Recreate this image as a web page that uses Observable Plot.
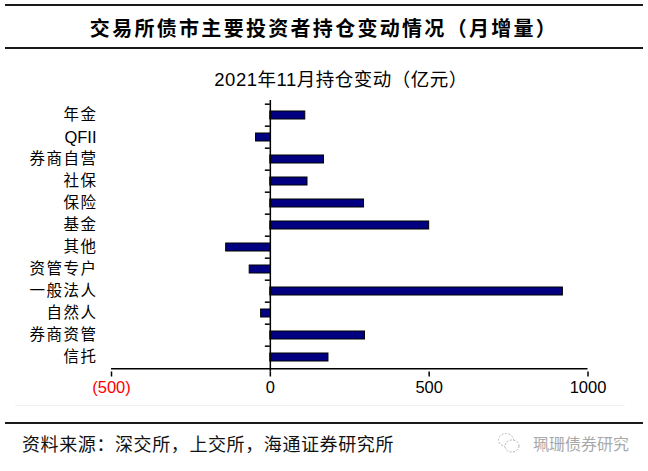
<!DOCTYPE html>
<html>
<head>
<meta charset="utf-8">
<script src="https://cdn.jsdelivr.net/npm/d3@7"></script>
<script src="https://cdn.jsdelivr.net/npm/@observablehq/plot@0.6"></script>
<style>
  html, body { margin: 0; padding: 0; background: #fff; }
  #wrap { position: relative; width: 648px; height: 471px; overflow: hidden; font-family: Arial, "Liberation Sans", "Noto Sans CJK SC", sans-serif; }
  .rule { position: absolute; left: 5px; width: 638px; height: 2px; background: #1a1a1a; }
  .abs { position: absolute; white-space: nowrap; }
  #title { left: 0; width: 648px; top: 15px; text-align: center; font-family: "Noto Sans CJK SC", sans-serif; font-weight: bold; font-size: 20px; line-height: 26px; letter-spacing: 2.3px; color: #000; }
  #subtitle { left: 0; width: 682px; top: 67px; text-align: center; font-size: 18.5px; line-height: 26px; letter-spacing: 0.5px; color: #000; }
  #source { left: 22px; top: 430px; font-family: "Noto Sans CJK SC", sans-serif; font-size: 18px; line-height: 26px; letter-spacing: 0.6px; color: #111; }
  #mark { left: 497px; top: 432px; font-family: "Noto Sans CJK SC", sans-serif; font-size: 16px; line-height: 22px; color: #a8a8a8; display: flex; align-items: center; gap: 12px; }
  #chart { position: absolute; left: 0; top: 0; }
</style>
</head>
<body>
<div id="wrap">
  <div class="rule" style="top:4px"></div>
  <div id="title" class="abs">交易所债市主要投资者持仓变动情况（月增量）</div>
  <div class="rule" style="top:47px"></div>
  <div id="chart"></div>
  <div id="subtitle" class="abs">2021年11月持仓变动（亿元）</div>
  <div class="abs" style="left:15px;top:405px;width:610px;height:1px;background:#f1f1f1"></div>
  <div class="rule" style="top:422px"></div>
  <div id="source" class="abs">资料来源：深交所，上交所，海通证券研究所</div>
  <div id="mark" class="abs"><svg width="24" height="22" viewBox="0 0 24 22"><ellipse cx="9" cy="8" rx="7.5" ry="6.5" fill="none" stroke="#b5b5b5" stroke-width="1" stroke-dasharray="2 1.5"/><ellipse cx="15" cy="14" rx="7" ry="6" fill="#fff" stroke="#b5b5b5" stroke-width="1" stroke-dasharray="2 1.5"/></svg><span>珮珊债券研究</span></div>
</div>
<script>
const categories = ["年金", "QFII", "券商自营", "社保", "保险", "基金", "其他", "资管专户", "一般法人", "自然人", "券商资管", "信托"];
const values = [110, -45, 169, 117, 295, 500, -139, -65, 921, -29, 298, 183];
const xTicks = [-500, 0, 500, 1000];
const xTickLabels = ["(500)", "0", "500", "1000"];
const xTickColors = ["#ff0000", "#000000", "#000000", "#000000"];

const data = categories.map((name, i) => ({name, value: values[i]}));
const ticks = xTicks.map((v, i) => ({v, label: xTickLabels[i], color: xTickColors[i]}));

const marginTop = 100, marginBottom = 38.5, height = 410;
const step = (height - marginTop - marginBottom) / categories.length;
const isCJK = s => /[\u4e00-\u9fff]/.test(s);

const chart = Plot.plot({
  width: 648,
  height,
  marginTop,
  marginBottom,
  marginLeft: 111,
  marginRight: 60.5,
  style: {background: "transparent", fontFamily: "Arial, 'Liberation Sans', 'Noto Sans CJK SC', sans-serif", color: "#000"},
  x: {domain: [-500, 1000], axis: null},
  y: {domain: categories, paddingInner: 0.655, paddingOuter: 0.3275, axis: null},
  color: {type: "identity"},
  marks: [
    Plot.barX(data, {x: "value", y: "name", fill: "#000080", stroke: "#000", strokeWidth: 1}),
    Plot.ruleX([0], {stroke: "#000", strokeWidth: 1.5}),
    Plot.ruleY(categories, {y: d => d, x1: -15.7, x2: 0, dy: -step / 2, stroke: "#000", strokeWidth: 1.5}),
    Plot.ruleY([categories[categories.length - 1]], {x1: -500, x2: 1000, dy: step / 2, stroke: "#000", strokeWidth: 1.5}),
    Plot.axisX({ticks: xTicks, tickSize: 5, tickFormat: () => "", strokeWidth: 1.5}),
    Plot.text(ticks, {x: "v", text: "label", fill: "color", frameAnchor: "bottom", dy: 21, fontSize: 16.5}),
    Plot.text(categories.filter(isCJK), {y: d => d, text: d => d, frameAnchor: "left", textAnchor: "end", dx: -14, fontSize: 15.5, fill: "#000"}),
    Plot.text(categories.filter(d => !isCJK(d)), {y: d => d, text: d => d, frameAnchor: "left", textAnchor: "end", dx: -15, fontSize: 16.5, fill: "#000"})
  ]
});
document.getElementById("chart").appendChild(chart);
d3.select(chart).selectAll("g[aria-label='text'] text").filter(function() { return isCJK(this.textContent); }).attr("letter-spacing", "1.5px");
</script>
</body>
</html>
